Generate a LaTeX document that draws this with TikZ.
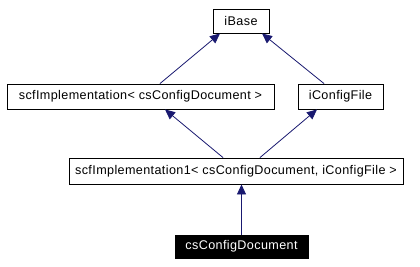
\documentclass[tikz,border=0pt]{standalone}
\usepackage{fontspec}
\setmainfont{Liberation Sans}[LetterSpace=3]
\usetikzlibrary{arrows.meta}
\definecolor{edgeblue}{HTML}{191970}
\begin{document}
\begin{tikzpicture}[x=1pt,y=-1pt,
  cls/.style={draw=black,line width=0.9pt,fill=white,inner sep=0pt,
    font=\fontsize{12.6}{15}\selectfont,anchor=center},
  current/.style={cls,fill=black,text=white},
  inherit/.style={draw=edgeblue,line width=0.8pt,
    -{Triangle[length=10pt,width=9pt]},shorten >=0pt}]
\useasboundingbox[fill=white] (0,0) rectangle (420,266);
% class boxes
\node[cls,minimum width=56pt,minimum height=24pt] (ibase) at (241,21) {iBase};
\node[cls,minimum width=267pt,minimum height=25pt] (scf) at (140.5,96.5) {scfImplementation< csConfigDocument >};
\node[cls,minimum width=85pt,minimum height=25pt] (icf) at (340.5,96.5) {iConfigFile};
\node[cls,minimum width=334pt,minimum height=26pt] (scfone) at (236,171) {scfImplementation1< csConfigDocument, iConfigFile >};
\node[current,minimum width=133pt,minimum height=23pt] (doc) at (241.5,246.5) {csConfigDocument};
% inheritance edges
\draw[inherit] ([xshift=19.5pt]scf.north) -- ([xshift=-21pt]ibase.south);
\draw[inherit] ([xshift=-16.5pt]icf.north) -- ([xshift=21pt]ibase.south);
\draw[inherit] ([xshift=-13pt]scfone.north) -- ([xshift=24.5pt]scf.south);
\draw[inherit] ([xshift=24pt]scfone.north) -- ([xshift=-23.5pt]icf.south);
\draw[inherit] (doc.north) -- (doc.north |- scfone.south);
\end{tikzpicture}
\end{document}
